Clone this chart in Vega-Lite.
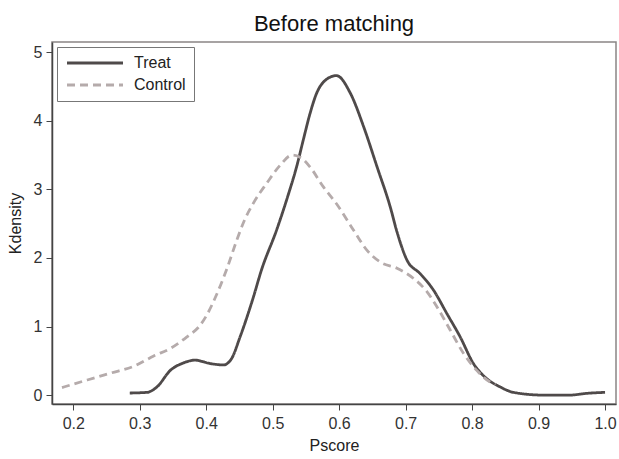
{
  "$schema": "https://vega.github.io/schema/vega-lite/v6.json",
  "width": 564,
  "height": 362,
  "autosize": "none",
  "padding": {"left": 52, "top": 42, "right": 3, "bottom": 55},
  "background": "white",
  "config": {
    "font": "Liberation Sans",
    "view": {"stroke": "#8a8585", "strokeWidth": 1.5}
  },
  "title": {"text": "Before matching", "fontSize": 22, "fontWeight": "normal", "color": "#111", "anchor": "middle", "offset": 6, "font": "Liberation Sans"},
  "data": {"values": [
    {"series": "Treat", "x": 0.285, "y": 0.03},
    {"series": "Treat", "x": 0.311, "y": 0.04},
    {"series": "Treat", "x": 0.326, "y": 0.12},
    {"series": "Treat", "x": 0.346, "y": 0.36},
    {"series": "Treat", "x": 0.366, "y": 0.47},
    {"series": "Treat", "x": 0.383, "y": 0.51},
    {"series": "Treat", "x": 0.406, "y": 0.46},
    {"series": "Treat", "x": 0.426, "y": 0.44},
    {"series": "Treat", "x": 0.438, "y": 0.53},
    {"series": "Treat", "x": 0.451, "y": 0.85},
    {"series": "Treat", "x": 0.471, "y": 1.43},
    {"series": "Treat", "x": 0.483, "y": 1.82},
    {"series": "Treat", "x": 0.506, "y": 2.41},
    {"series": "Treat", "x": 0.524, "y": 2.94},
    {"series": "Treat", "x": 0.536, "y": 3.33},
    {"series": "Treat", "x": 0.546, "y": 3.72},
    {"series": "Treat", "x": 0.556, "y": 4.10},
    {"series": "Treat", "x": 0.566, "y": 4.40},
    {"series": "Treat", "x": 0.579, "y": 4.59},
    {"series": "Treat", "x": 0.596, "y": 4.66},
    {"series": "Treat", "x": 0.617, "y": 4.40},
    {"series": "Treat", "x": 0.637, "y": 3.91},
    {"series": "Treat", "x": 0.657, "y": 3.33},
    {"series": "Treat", "x": 0.677, "y": 2.74},
    {"series": "Treat", "x": 0.687, "y": 2.38},
    {"series": "Treat", "x": 0.702, "y": 1.97},
    {"series": "Treat", "x": 0.722, "y": 1.77},
    {"series": "Treat", "x": 0.742, "y": 1.53},
    {"series": "Treat", "x": 0.762, "y": 1.19},
    {"series": "Treat", "x": 0.782, "y": 0.85},
    {"series": "Treat", "x": 0.802, "y": 0.46},
    {"series": "Treat", "x": 0.822, "y": 0.24},
    {"series": "Treat", "x": 0.842, "y": 0.12},
    {"series": "Treat", "x": 0.862, "y": 0.04},
    {"series": "Treat", "x": 0.907, "y": 0.0},
    {"series": "Treat", "x": 0.947, "y": 0.0},
    {"series": "Treat", "x": 0.972, "y": 0.025},
    {"series": "Treat", "x": 1.0, "y": 0.04},
    {"series": "Control", "x": 0.183, "y": 0.11},
    {"series": "Control", "x": 0.221, "y": 0.22},
    {"series": "Control", "x": 0.256, "y": 0.32},
    {"series": "Control", "x": 0.291, "y": 0.42},
    {"series": "Control", "x": 0.321, "y": 0.57},
    {"series": "Control", "x": 0.346, "y": 0.68},
    {"series": "Control", "x": 0.371, "y": 0.85},
    {"series": "Control", "x": 0.391, "y": 1.02},
    {"series": "Control", "x": 0.401, "y": 1.17},
    {"series": "Control", "x": 0.414, "y": 1.43},
    {"series": "Control", "x": 0.431, "y": 1.84},
    {"series": "Control", "x": 0.446, "y": 2.26},
    {"series": "Control", "x": 0.458, "y": 2.56},
    {"series": "Control", "x": 0.471, "y": 2.80},
    {"series": "Control", "x": 0.491, "y": 3.09},
    {"series": "Control", "x": 0.511, "y": 3.35},
    {"series": "Control", "x": 0.529, "y": 3.50},
    {"series": "Control", "x": 0.541, "y": 3.47},
    {"series": "Control", "x": 0.556, "y": 3.33},
    {"series": "Control", "x": 0.576, "y": 3.04},
    {"series": "Control", "x": 0.596, "y": 2.79},
    {"series": "Control", "x": 0.622, "y": 2.40},
    {"series": "Control", "x": 0.642, "y": 2.11},
    {"series": "Control", "x": 0.662, "y": 1.94},
    {"series": "Control", "x": 0.687, "y": 1.85},
    {"series": "Control", "x": 0.712, "y": 1.70},
    {"series": "Control", "x": 0.732, "y": 1.51},
    {"series": "Control", "x": 0.747, "y": 1.29},
    {"series": "Control", "x": 0.767, "y": 0.95},
    {"series": "Control", "x": 0.787, "y": 0.61},
    {"series": "Control", "x": 0.807, "y": 0.36},
    {"series": "Control", "x": 0.827, "y": 0.19},
    {"series": "Control", "x": 0.835, "y": 0.15}
  ]},
  "mark": {"type": "line", "strokeWidth": 2.8, "interpolate": "monotone"},
  "encoding": {
    "x": {
      "field": "x", "type": "quantitative",
      "scale": {"domain": [0.168, 1.0165], "nice": false, "zero": false},
      "axis": {
        "title": "Pscore", "values": [0.2, 0.3, 0.4, 0.5, 0.6, 0.7, 0.8, 0.9, 1.0], "format": ".1f",
        "grid": false, "domainColor": "#444", "domainWidth": 1.5, "tickColor": "#444", "tickSize": 6, "tickWidth": 1,
        "labelFontSize": 16, "labelColor": "#333", "labelPadding": 5, "labelFont": "Liberation Sans",
        "titleFontSize": 16, "titleFontWeight": "normal", "titleColor": "#222", "titlePadding": 6, "titleFont": "Liberation Sans"
      }
    },
    "y": {
      "field": "y", "type": "quantitative",
      "scale": {"domain": [-0.13, 5.15], "nice": false, "zero": false},
      "axis": {
        "title": "Kdensity", "values": [0, 1, 2, 3, 4, 5], "format": "d",
        "grid": false, "domainColor": "#444", "domainWidth": 1.5, "tickColor": "#444", "tickSize": 6, "tickWidth": 1,
        "labelFontSize": 16, "labelColor": "#333", "labelPadding": 4, "labelFont": "Liberation Sans",
        "titleFontSize": 16, "titleFontWeight": "normal", "titleColor": "#222", "titlePadding": 10, "titleFont": "Liberation Sans"
      }
    },
    "color": {
      "field": "series", "type": "nominal",
      "scale": {"domain": ["Treat", "Control"], "range": ["#4f4a4a", "#b5abab"]},
      "legend": {
        "title": null, "orient": "none", "legendX": 5, "legendY": 5,
        "symbolType": "M-1.2,0H10", "symbolSize": 100, "symbolStrokeWidth": 2.8,
        "labelFontSize": 16, "labelColor": "#222", "labelFont": "Liberation Sans",
        "strokeColor": "#777", "fillColor": "white", "padding": 8, "rowPadding": 6, "labelOffset": 53
      }
    },
    "strokeDash": {
      "field": "series", "type": "nominal",
      "scale": {"domain": ["Treat", "Control"], "range": [[1, 0], [8, 5]]},
      "legend": null
    }
  }
}
